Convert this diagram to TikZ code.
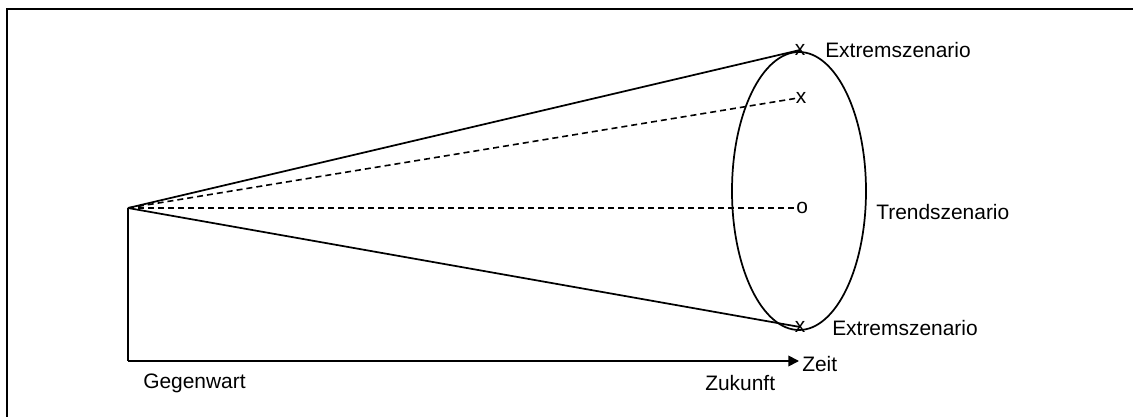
\documentclass[tikz,border=0pt]{standalone}
\usepackage{fontspec}
\setmainfont{Liberation Sans}
\usetikzlibrary{arrows.meta,shapes.geometric}
\begin{document}
\begin{tikzpicture}[x=0.75pt,y=-0.75pt,
  line/.style={line width=1.3pt},
  dline/.style={line width=1.2pt,dash pattern=on 4.5pt off 3pt},
  lbl/.style={font=\fontsize{15.7}{18}\selectfont,inner sep=0pt},
  endmark/.style={font=\fontsize{15.7}{18}\selectfont,inner sep=0pt}]
\useasboundingbox (0,0) rectangle (1133,417);
% frame (top and left only)
\coordinate (ftl) at (7,9);
\coordinate (ftr) at (1133,9);
\coordinate (fbl) at (7,417);
\draw[line width=1.7pt] (fbl) -- (ftl) -- (ftr);
% axes
\coordinate (apex) at (128,208);
\coordinate (origin) at (128,361);
\coordinate (tend) at (799,361);
\draw[line] (apex) -- (origin);
\draw[line,-{Triangle[length=8pt,width=8pt]}] (origin) -- (tend);
% ellipse
\node[draw,line width=1.3pt,ellipse,minimum width=100.5pt,minimum height=208.5pt,inner sep=0pt] (ell) at (799,191) {};
% end points
\coordinate (ptop) at (800,50);
\coordinate (pmid) at (798,98);
\coordinate (ptrend) at (796,208);
\coordinate (pbot) at (800,327);
\draw[line] (apex) -- (ptop);
\draw[line] (apex) -- (pbot);
\draw[dline] (apex) -- (pmid);
\draw[dline] (apex) -- (ptrend);
% markers
\node[endmark] (mtop) at (800,50) {x};
\node[endmark] (mmid) at (801,98) {x};
\node[endmark,anchor=west] (mtrend) at (796,208) {o};
\node[endmark] (mbot) at (800,327) {x};
% labels
\node[lbl,anchor=west] (ext1) at (825,50) {Extremszenario};
\node[lbl,anchor=west] (trend) at (876,212) {Trendszenario};
\node[lbl,anchor=west] (ext2) at (832,328) {Extremszenario};
\node[lbl,anchor=west] (zeit) at (802,364) {Zeit};
\node[lbl,anchor=west] (gegen) at (143,383) {Gegenwart};
\node[lbl,anchor=west] (zuk) at (705,383) {Zukunft};
\end{tikzpicture}
\end{document}
